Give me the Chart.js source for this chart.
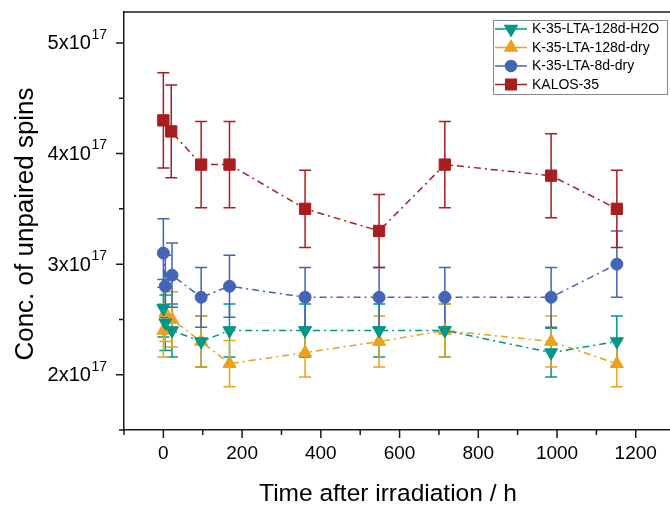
<!DOCTYPE html>
<html>
<head>
<meta charset="utf-8">
<script src="https://cdn.jsdelivr.net/npm/chart.js@4"></script>
<style>
  html, body { margin: 0; padding: 0; background: #fff; overflow: hidden; }
  #wrap { width: 670px; height: 508px; position: relative; }
</style>
</head>
<body>
<div id="wrap"><canvas id="spinChart" width="670" height="508"></canvas></div>
<script>
// ── Data (conc. in units of 1e17) ────────────────────────────
const TIME_KALOS = [0, 20, 96, 168, 360, 548, 715, 985, 1152];
const TIME_LTA   = [0, 5, 22, 96, 168, 360, 548, 715, 985, 1152];

const KALOS      = [4.3, 4.2, 3.9, 3.9, 3.5, 3.3, 3.9, 3.8, 3.5];
const KALOS_ERR  = [0.43, 0.42, 0.39, 0.39, 0.35, 0.33, 0.39, 0.38, 0.35];

const LTA8_DRY     = [3.1, 2.8, 2.9, 2.7, 2.8, 2.7, 2.7, 2.7, 2.7, 3.0];
const LTA8_DRY_ERR = [0.31, 0.28, 0.29, 0.27, 0.28, 0.27, 0.27, 0.27, 0.27, 0.30];

const LTA128_DRY     = [2.4, 2.56, 2.5, 2.3, 2.1, 2.2, 2.3, 2.4, 2.3, 2.1];
const LTA128_DRY_ERR = [0.24, 0.26, 0.25, 0.23, 0.21, 0.22, 0.23, 0.24, 0.23, 0.21];

const LTA128_H2O     = [2.6, 2.47, 2.4, 2.3, 2.4, 2.4, 2.4, 2.4, 2.2, 2.3];
const LTA128_H2O_ERR = [0.26, 0.25, 0.24, 0.23, 0.24, 0.24, 0.24, 0.24, 0.22, 0.23];

const X_TICKS = [0, 200, 400, 600, 800, 1000, 1200];
const Y_TICKS = [2, 3, 4, 5];

const FONT = '"Liberation Sans", Arial, sans-serif';
const AXIS_COLOR = '#1a1a1a';

function series(label, xs, ys, errs, color, style, radius, rotation) {
  return {
    label,
    data: xs.map((x, i) => ({ x, y: ys[i] })),
    errors: errs,
    borderColor: color,
    backgroundColor: color,
    borderWidth: 1.5,
    borderDash: [7, 4, 2, 4],
    pointStyle: style,
    pointRadius: radius,
    pointRotation: rotation,
    pointBackgroundColor: color,
    pointBorderColor: color,
    pointBorderWidth: 1,
    tension: 0,
    fill: false
  };
}

// ── Error bars, ticks, labels, legend ───────────────────────
const decorPlugin = {
  id: 'decor',
  beforeDatasetsDraw(chart) {
    const { ctx } = chart;
    const xs = chart.scales.x, ys = chart.scales.y;
    ctx.save();
    chart.data.datasets.forEach(ds => {
      ctx.strokeStyle = ds.borderColor;
      ctx.lineWidth = 1.5;
      ds.data.forEach((p, i) => {
        const e = ds.errors[i];
        const px = xs.getPixelForValue(p.x);
        const top = ys.getPixelForValue(p.y + e);
        const bot = ys.getPixelForValue(p.y - e);
        ctx.beginPath();
        ctx.moveTo(px, top); ctx.lineTo(px, bot);
        ctx.moveTo(px - 6, top); ctx.lineTo(px + 6, top);
        ctx.moveTo(px - 6, bot); ctx.lineTo(px + 6, bot);
        ctx.stroke();
      });
    });
    ctx.restore();
  },
  afterDraw(chart) {
    const { ctx, chartArea: a } = chart;
    const xs = chart.scales.x, ys = chart.scales.y;
    ctx.save();
    ctx.strokeStyle = AXIS_COLOR;
    ctx.lineWidth = 1.5;

    // top frame line
    ctx.beginPath();
    ctx.moveTo(a.left, a.top); ctx.lineTo(a.right + 1, a.top);
    ctx.stroke();

    // x ticks (major every 200, minor every 100)
    ctx.beginPath();
    for (let v = -100; v <= 1300; v += 100) {
      const px = xs.getPixelForValue(v);
      if (px < a.left - 1 || px > a.right + 1) continue;
      const len = v % 200 === 0 ? 8 : 5;
      ctx.moveTo(px, a.bottom); ctx.lineTo(px, a.bottom + len);
    }
    // y ticks (major every 1, minor every 0.5)
    for (let v = 1.5; v <= 5.0; v += 0.5) {
      const py = ys.getPixelForValue(v);
      const len = Number.isInteger(v) ? 8 : 5;
      ctx.moveTo(a.left, py); ctx.lineTo(a.left - len, py);
    }
    ctx.stroke();

    ctx.fillStyle = '#000';
    // x tick labels
    ctx.font = '19px ' + FONT;
    ctx.textAlign = 'center';
    ctx.textBaseline = 'middle';
    X_TICKS.forEach(v => {
      ctx.fillText(String(v), xs.getPixelForValue(v), a.bottom + 24);
    });

    // y tick labels: Nx10^17
    Y_TICKS.forEach(v => {
      const py = ys.getPixelForValue(v);
      const right = a.left - 17;
      ctx.font = '14px ' + FONT;
      const supW = ctx.measureText('17').width;
      ctx.textAlign = 'left';
      ctx.textBaseline = 'middle';
      ctx.fillText('17', right - supW, py - 8);
      ctx.font = '20px ' + FONT;
      ctx.textAlign = 'right';
      ctx.fillText(v + 'x10', right - supW - 0.5, py + 1);
    });

    // axis titles
    ctx.font = '24.5px ' + FONT;
    ctx.textAlign = 'center';
    ctx.textBaseline = 'middle';
    ctx.fillText('Time after irradiation / h', 388, 494);
    ctx.save();
    ctx.font = '26px ' + FONT;
    ctx.translate(26, 224);
    ctx.rotate(-Math.PI / 2);
    ctx.fillText('Conc. of unpaired spins', 0, 0);
    ctx.restore();

    // legend box
    const box = { x: 493, y: 20, w: 174, h: 74 };
    ctx.fillStyle = '#fff';
    ctx.fillRect(box.x, box.y, box.w, box.h);
    ctx.strokeStyle = '#8a8a8a';
    ctx.lineWidth = 1;
    ctx.strokeRect(box.x + 0.5, box.y + 0.5, box.w, box.h);
    chart.data.datasets.forEach((ds, i) => {
      const y = 29 + i * 18.5;
      ctx.strokeStyle = ds.borderColor;
      ctx.lineWidth = 1.5;
      ctx.setLineDash([]);
      ctx.beginPath();
      ctx.moveTo(495, y); ctx.lineTo(527, y);
      ctx.stroke();
      ctx.fillStyle = ds.borderColor;
      Chart.helpers.drawPoint(ctx, {
        pointStyle: ds.pointStyle,
        radius: ds.pointRadius - 0.5,
        rotation: ds.pointRotation,
        borderWidth: 1
      }, 511, y);
      ctx.fillStyle = '#000';
      ctx.font = '14px ' + FONT;
      ctx.textAlign = 'left';
      ctx.textBaseline = 'middle';
      ctx.fillText(ds.label, 532, y + 0.5);
    });
    ctx.restore();
  }
};

const ctx = document.getElementById('spinChart').getContext('2d');
new Chart(ctx, {
  type: 'line',
  data: {
    datasets: [
      series('K-35-LTA-128d-H2O', TIME_LTA, LTA128_H2O, LTA128_H2O_ERR, '#009688', 'triangle', 7.5, 180),
      series('K-35-LTA-128d-dry', TIME_LTA, LTA128_DRY, LTA128_DRY_ERR, '#e8a21c', 'triangle', 7.5, 0),
      series('K-35-LTA-8d-dry',   TIME_LTA, LTA8_DRY,   LTA8_DRY_ERR,   '#4464b6', 'circle', 6, 0),
      series('KALOS-35',          TIME_KALOS, KALOS,    KALOS_ERR,      '#a81e20', 'rect', 8, 0)
    ]
  },
  options: {
    responsive: false,
    animation: false,
    layout: { autoPadding: false, padding: { top: 12, right: 0, left: 0, bottom: 0 } },
    plugins: {
      legend: { display: false },
      tooltip: { enabled: false }
    },
    scales: {
      x: {
        type: 'linear',
        min: -100,
        max: 1287,
        afterFit: scale => { scale.height = 78; },
        grid: { display: false, drawTicks: false },
        border: { display: true, color: AXIS_COLOR, width: 1.5 },
        ticks: { display: false }
      },
      y: {
        type: 'linear',
        min: 1.5,
        max: 5.28,
        afterFit: scale => { scale.width = 124; },
        grid: { display: false, drawTicks: false },
        border: { display: true, color: AXIS_COLOR, width: 1.5 },
        ticks: { display: false }
      }
    }
  },
  plugins: [decorPlugin]
});
</script>
</body>
</html>
